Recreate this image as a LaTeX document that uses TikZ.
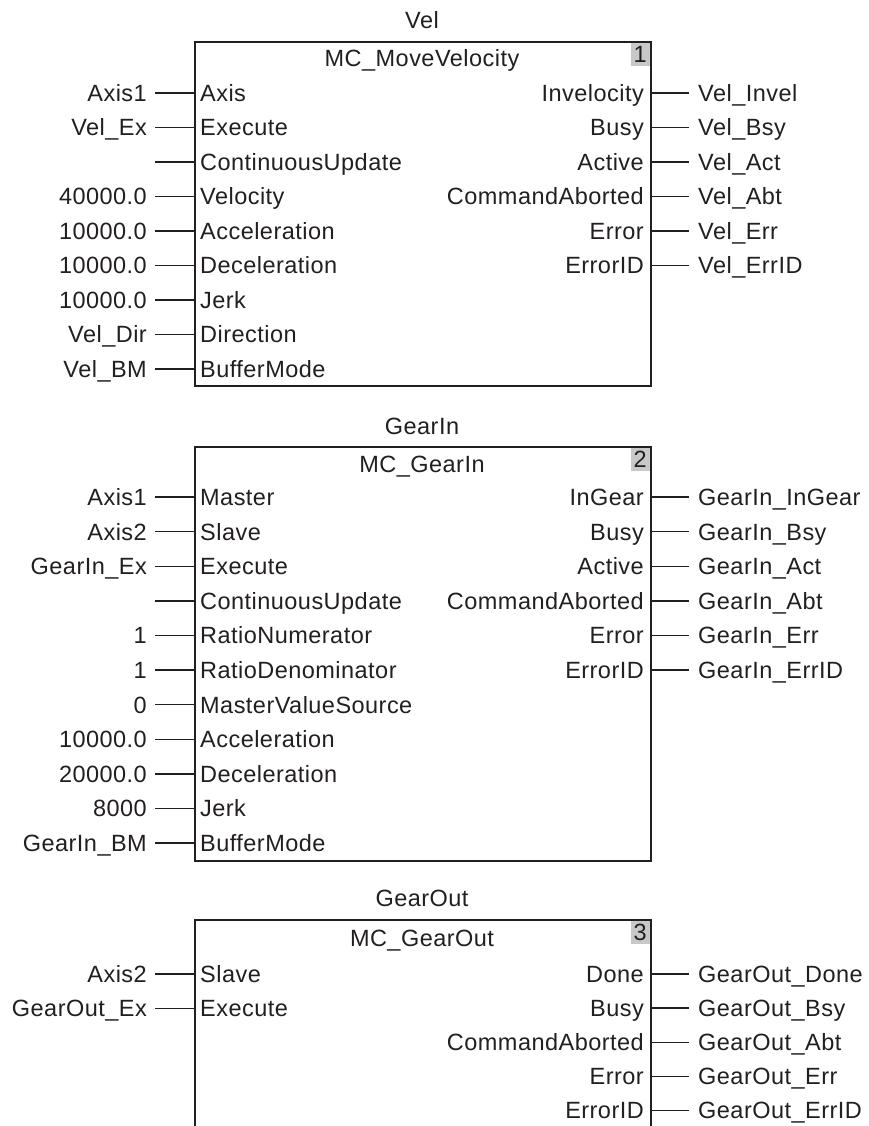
\documentclass[tikz,border=0pt]{standalone}
\usepackage{fontspec}
\setmainfont{Liberation Sans}[LetterSpace=2]
\definecolor{ink}{HTML}{231F20}
\definecolor{numgray}{HTML}{C8C8C8}
\tikzset{
 lbl/.style={font=\fontsize{23.5}{28}\selectfont, text=ink, inner ysep=0pt, text height=16.8pt, text depth=0pt},
 inl/.style={lbl, anchor=east, inner xsep=8pt},
 pinin/.style={lbl, anchor=west, inner xsep=6pt},
 pinout/.style={lbl, anchor=east, inner xsep=6pt},
 outl/.style={lbl, anchor=west, inner xsep=9pt},
 numlbl/.style={lbl, anchor=east, inner xsep=3pt},
 wire/.style={draw=ink, line width=1.4pt},
 fb/.style={draw=ink, line width=1.8pt, inner sep=0pt},
 numbox/.style={fill=numgray, inner sep=0pt, minimum width=19pt, minimum height=25pt},
}
\begin{document}
\begin{tikzpicture}[x=1pt,y=-1pt]
\useasboundingbox (0,0) rectangle (868,1126);
\fill[white] (0,0) rectangle (868,1126);

% ---------------- Block 1: Vel ----------------
\node[lbl] (t1) at (422,20) {Vel};
\node[numbox, anchor=north east] (g1) at (650,41) {};
\node[fb, minimum width=456pt, minimum height=344pt, anchor=north west] (b1) at (194,41) {};
\node[numlbl] (n1) at (650,54) {1};
\node[lbl] (h1) at (422,58) {MC\_MoveVelocity};
\foreach \i/\a/\p [evaluate=\i as \y using 93+34.5*(\i-1)] in
 {1/Axis1/Axis, 2/Vel\_Ex/Execute, 3//ContinuousUpdate, 4/40000.0/Velocity,
  5/10000.0/Acceleration, 6/10000.0/Deceleration, 7/10000.0/Jerk,
  8/Vel\_Dir/Direction, 9/Vel\_BM/BufferMode} {
  \node[inl] (va\i) at (155,\y) {\a};
  \node[pinin] (vp\i) at (194,\y) {\p};
  \draw[wire] (va\i.east) -- (vp\i.west);
}
\foreach \i/\p/\o [evaluate=\i as \y using 93+34.5*(\i-1)] in
 {1/Invelocity/Vel\_Invel, 2/Busy/Vel\_Bsy, 3/Active/Vel\_Act,
  4/CommandAborted/Vel\_Abt, 5/Error/Vel\_Err, 6/ErrorID/Vel\_ErrID} {
  \node[pinout] (vq\i) at (650,\y) {\p};
  \node[outl] (vo\i) at (689,\y) {\o};
  \draw[wire] (vq\i.east) -- (vo\i.west);
}

% ---------------- Block 2: GearIn ----------------
\node[lbl] (t2) at (422,426) {GearIn};
\node[numbox, anchor=north east] (g2) at (650,446) {};
\node[fb, minimum width=456pt, minimum height=414pt, anchor=north west] (b2) at (194,446) {};
\node[numlbl] (n2) at (650,459) {2};
\node[lbl] (h2) at (422,464) {MC\_GearIn};
\foreach \i/\a/\p [evaluate=\i as \y using 497+34.6*(\i-1)] in
 {1/Axis1/Master, 2/Axis2/Slave, 3/GearIn\_Ex/Execute, 4//ContinuousUpdate,
  5/1/RatioNumerator, 6/1/RatioDenominator, 7/0/MasterValueSource,
  8/10000.0/Acceleration, 9/20000.0/Deceleration, 10/8000/Jerk,
  11/GearIn\_BM/BufferMode} {
  \node[inl] (ga\i) at (155,\y) {\a};
  \node[pinin] (gp\i) at (194,\y) {\p};
  \draw[wire] (ga\i.east) -- (gp\i.west);
}
\foreach \i/\p/\o [evaluate=\i as \y using 497+34.6*(\i-1)] in
 {1/InGear/GearIn\_InGear, 2/Busy/GearIn\_Bsy, 3/Active/GearIn\_Act,
  4/CommandAborted/GearIn\_Abt, 5/Error/GearIn\_Err, 6/ErrorID/GearIn\_ErrID} {
  \node[pinout] (gq\i) at (650,\y) {\p};
  \node[outl] (go\i) at (689,\y) {\o};
  \draw[wire] (gq\i.east) -- (go\i.west);
}

% ---------------- Block 3: GearOut ----------------
\node[lbl] (t3) at (422,898) {GearOut};
\node[numbox, anchor=north east] (g3) at (650,919) {};
\node[fb, minimum width=456pt, minimum height=240pt, anchor=north west] (b3) at (194,919) {};
\node[numlbl] (n3) at (650,932) {3};
\node[lbl] (h3) at (422,938) {MC\_GearOut};
\foreach \i/\a/\p [evaluate=\i as \y using 974+34.3*(\i-1)] in
 {1/Axis2/Slave, 2/GearOut\_Ex/Execute} {
  \node[inl] (oa\i) at (155,\y) {\a};
  \node[pinin] (op\i) at (194,\y) {\p};
  \draw[wire] (oa\i.east) -- (op\i.west);
}
\foreach \i/\p/\o [evaluate=\i as \y using 974+34.1*(\i-1)] in
 {1/Done/GearOut\_Done, 2/Busy/GearOut\_Bsy, 3/CommandAborted/GearOut\_Abt,
  4/Error/GearOut\_Err, 5/ErrorID/GearOut\_ErrID} {
  \node[pinout] (oq\i) at (650,\y) {\p};
  \node[outl] (oo\i) at (689,\y) {\o};
  \draw[wire] (oq\i.east) -- (oo\i.west);
}
\end{tikzpicture}
\end{document}
